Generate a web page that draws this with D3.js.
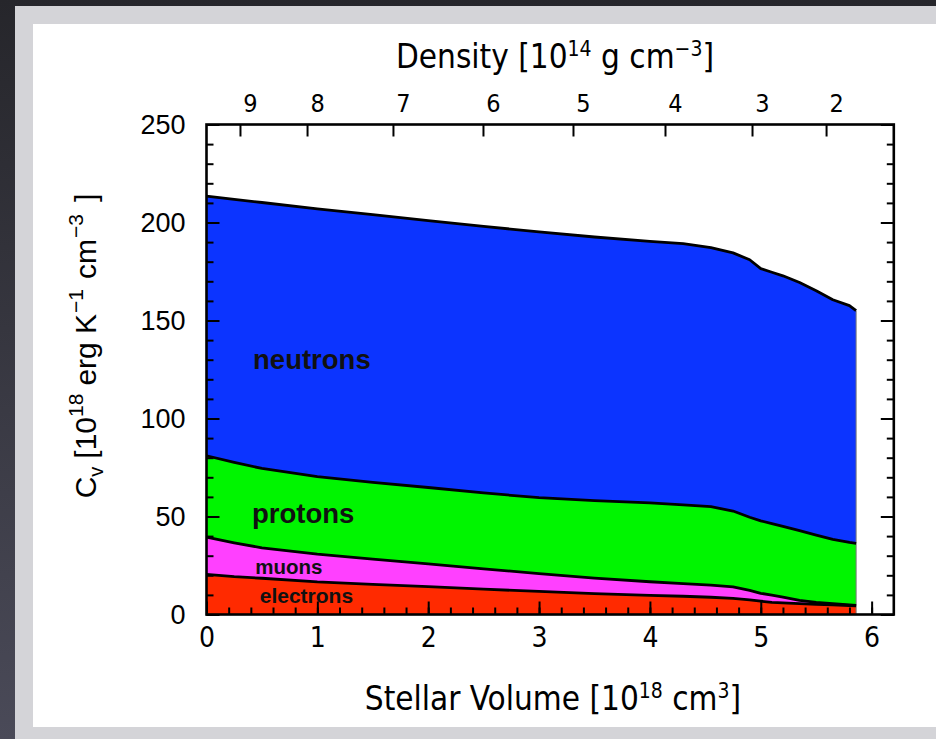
<!DOCTYPE html>
<html>
<head>
<meta charset="utf-8">
<script src="https://cdn.jsdelivr.net/npm/d3@7"></script>
<style>
  html, body { margin: 0; padding: 0; background: #2c2c33; }
  svg { display: block; }
  .hershey { font-family: "Liberation Sans Narrow", "DejaVu Sans Condensed", sans-serif; }
  .sans { font-family: "Liberation Sans", Arial, sans-serif; }
</style>
</head>
<body>
<svg id="chart" width="936" height="739"></svg>
<script>
// Stellar volume coordinate (10^18 cm^3)
const volume = [0, 0.25, 0.5, 1, 1.5, 2, 2.5, 3, 3.5, 4, 4.3, 4.55, 4.75, 4.9, 5.0, 5.1, 5.2, 5.35, 5.5, 5.65, 5.8, 5.86];

// Specific heat contributions (10^18 erg K^-1 cm^-3), stacked bottom to top
const electrons = [20.5, 19.3, 18.5, 16.6, 15.4, 14.2, 12.9, 11.8, 10.7, 9.8, 9.3, 8.8, 8.2, 7.5, 6.8, 6.2, 5.9, 5.5, 5.2, 4.9, 4.6, 4.4];
const muons     = [19.0, 17.3, 15.5, 14.2, 12.9, 11.6, 10.4, 9.1, 7.9, 6.9, 6.5, 6.2, 5.9, 4.8, 4.0, 3.7, 3.0, 1.7, 1.0, 0.6, 0.3, 0.3];
const protons   = [41.5, 41.0, 40.5, 39.5, 39.1, 39.0, 38.7, 38.7, 39.5, 40.2, 40.1, 40.0, 38.7, 37.3, 37.0, 36.5, 36.1, 35.6, 34.3, 32.8, 31.9, 31.6];
const neutrons  = [132.5, 134.2, 135.7, 136.7, 136.6, 136.2, 136.0, 135.6, 134.5, 133.5, 133.3, 132.2, 131.7, 131.4, 128.7, 128.2, 127.8, 126.6, 124.7, 122.3, 120.8, 118.7];

const species = ["electrons", "muons", "protons", "neutrons"];
const speciesColors = ["#ff2a00", "#ff40ff", "#00f500", "#0c34ff"];

// Density axis: tick labels (10^14 g cm^-3) and the volume at which each density is reached
const densityLabels = ["9", "8", "7", "6", "5", "4", "3", "2"];
const densityAtVolume = [0.302, 0.907, 1.682, 2.494, 3.306, 4.136, 4.921, 5.589];

const volumeTicks = [0, 1, 2, 3, 4, 5, 6];
const cvTicks = [0, 50, 100, 150, 200, 250];

// ---------------------------------------------------------------
const svg = d3.select("#chart");

// page backdrop: dark surround, pale mat, white sheet
const defs = svg.append("defs");
const grad = defs.append("linearGradient").attr("id", "bg").attr("x1", 0).attr("y1", 0).attr("x2", 0).attr("y2", 1);
grad.append("stop").attr("offset", "0%").attr("stop-color", "#26262b");
grad.append("stop").attr("offset", "100%").attr("stop-color", "#4a4a58");
svg.append("rect").attr("width", 936).attr("height", 739).attr("fill", "url(#bg)");
svg.append("rect").attr("x", 15).attr("y", 6).attr("width", 921).attr("height", 733).attr("fill", "#d4d4d8");
svg.append("rect").attr("x", 33).attr("y", 24).attr("width", 903).attr("height", 703).attr("fill", "#ffffff");

const x = d3.scaleLinear().domain([0, 6.2]).range([206.5, 893.8]);
const y = d3.scaleLinear().domain([0, 250]).range([614.5, 124.5]);

// stacked layers
const table = volume.map((v, i) => ({
  volume: v,
  electrons: electrons[i],
  muons: muons[i],
  protons: protons[i],
  neutrons: neutrons[i]
}));
const stacked = d3.stack().keys(species)(table);

const area = d3.area()
  .x(d => x(d.data.volume))
  .y0(d => y(d[0]))
  .y1(d => y(d[1]));

const topLine = d3.line()
  .x(d => x(d.data.volume))
  .y(d => y(d[1]));

svg.append("g").selectAll("path")
  .data(stacked)
  .join("path")
  .attr("d", area)
  .attr("fill", (d, i) => speciesColors[i]);

// thin closing edge at the end of the model
const last = volume.length - 1;
svg.append("line")
  .attr("x1", x(volume[last])).attr("x2", x(volume[last]))
  .attr("y1", y(0)).attr("y2", y(stacked[3][last][1]))
  .attr("stroke", "#7a7a7a").attr("stroke-width", 1);

svg.append("g").selectAll("path")
  .data(stacked)
  .join("path")
  .attr("d", topLine)
  .attr("fill", "none")
  .attr("stroke", "#000")
  .attr("stroke-width", 2.8)
  .attr("stroke-linejoin", "round");

// species labels
const labels = [
  { text: "neutrons", v: 0.42, c: 125.5, size: 27.5 },
  { text: "protons", v: 0.41, c: 46.5, size: 27.5 },
  { text: "muons", v: 0.44, c: 20.8, size: 20.5 },
  { text: "electrons", v: 0.48, c: 5.8, size: 21 }
];
svg.append("g").selectAll("text")
  .data(labels)
  .join("text")
  .attr("class", "sans")
  .attr("x", d => x(d.v))
  .attr("y", d => y(d.c))
  .attr("font-weight", "bold")
  .attr("font-size", d => d.size)
  .attr("fill", "#111")
  .text(d => d.text);

// axes
function styleAxis(g) {
  g.select(".domain").remove();
  g.selectAll(".tick line").attr("stroke", "#000").attr("stroke-width", 2);
  g.selectAll(".tick text").attr("fill", "#000");
}

const minorV = d3.range(0, 31).map(i => i * 0.2);
const minorC = d3.range(0, 26).map(i => i * 10);

// bottom
svg.append("g").attr("transform", `translate(0,${y(0)})`)
  .call(d3.axisBottom(x).tickValues(minorV).tickSize(-7).tickFormat(""))
  .call(styleAxis);
svg.append("g").attr("class", "hershey").attr("transform", `translate(0,${y(0)})`)
  .call(d3.axisBottom(x).tickValues(volumeTicks).tickSize(-13).tickPadding(13).tickFormat(d3.format("d")))
  .call(styleAxis)
  .call(g => g.selectAll(".tick text").attr("font-size", 28).attr("font-family", null));

// top (density)
svg.append("g").attr("class", "hershey").attr("transform", `translate(0,${y(250)})`)
  .call(d3.axisTop(x).tickValues(densityAtVolume).tickSize(-12).tickPadding(13).tickFormat((d, i) => densityLabels[i]))
  .call(styleAxis)
  .call(g => g.selectAll(".tick text").attr("font-size", 25).attr("dx", 10).attr("font-family", null));

// left
svg.append("g").attr("transform", `translate(${x(0)},0)`)
  .call(d3.axisLeft(y).tickValues(minorC).tickSize(-7).tickFormat(""))
  .call(styleAxis);
svg.append("g").attr("class", "sans").attr("transform", `translate(${x(0)},0)`)
  .call(d3.axisLeft(y).tickValues(cvTicks).tickSize(-13).tickPadding(21).tickFormat(d3.format("d")))
  .call(styleAxis)
  .call(g => g.selectAll(".tick text").attr("font-size", 27).attr("font-family", null));

// right
svg.append("g").attr("transform", `translate(${x(6.2)},0)`)
  .call(d3.axisRight(y).tickValues(minorC).tickSize(-7).tickFormat(""))
  .call(styleAxis);
svg.append("g").attr("transform", `translate(${x(6.2)},0)`)
  .call(d3.axisRight(y).tickValues(cvTicks).tickSize(-13).tickFormat(""))
  .call(styleAxis);

// frame
svg.append("rect")
  .attr("x", x(0)).attr("y", y(250))
  .attr("width", x(6.2) - x(0)).attr("height", y(0) - y(250))
  .attr("fill", "none").attr("stroke", "#000").attr("stroke-width", 2.6);

// axis titles
const topTitle = svg.append("text").attr("class", "hershey")
  .attr("x", 555).attr("y", 68).attr("text-anchor", "middle").attr("font-size", 33).attr("fill", "#000");
topTitle.append("tspan").text("Density [10");
topTitle.append("tspan").attr("dy", -12).attr("font-size", 21).text("14");
topTitle.append("tspan").attr("dy", 12).text(" g cm");
topTitle.append("tspan").attr("dy", -12).attr("font-size", 21).text("−3");
topTitle.append("tspan").attr("dy", 12).text("]");

const bottomTitle = svg.append("text").attr("class", "hershey")
  .attr("x", 553).attr("y", 710).attr("text-anchor", "middle").attr("font-size", 33).attr("fill", "#000");
bottomTitle.append("tspan").text("Stellar Volume [10");
bottomTitle.append("tspan").attr("dy", -12).attr("font-size", 21).text("18");
bottomTitle.append("tspan").attr("dy", 12).text(" cm");
bottomTitle.append("tspan").attr("dy", -12).attr("font-size", 21).text("3");
bottomTitle.append("tspan").attr("dy", 12).text("]");

const leftTitle = svg.append("text").attr("class", "sans")
  .attr("transform", "translate(96,346) rotate(-90)")
  .attr("text-anchor", "middle").attr("font-size", 30).attr("fill", "#000");
leftTitle.append("tspan").text("C");
leftTitle.append("tspan").attr("dy", 7).attr("font-size", 20).text("v");
leftTitle.append("tspan").attr("dy", -7).attr("dx", 8).text("[10");
leftTitle.append("tspan").attr("dy", -13).attr("font-size", 21).text("18");
leftTitle.append("tspan").attr("dy", 13).attr("dx", 8).text("erg K");
leftTitle.append("tspan").attr("dy", -13).attr("dx", 1).attr("font-size", 21).text("−1");
leftTitle.append("tspan").attr("dy", 13).attr("dx", 10).text("cm");
leftTitle.append("tspan").attr("dy", -13).attr("dx", 1).attr("font-size", 21).text("−3");
leftTitle.append("tspan").attr("dy", 13).attr("dx", 12).text("]");
</script>
</body>
</html>
